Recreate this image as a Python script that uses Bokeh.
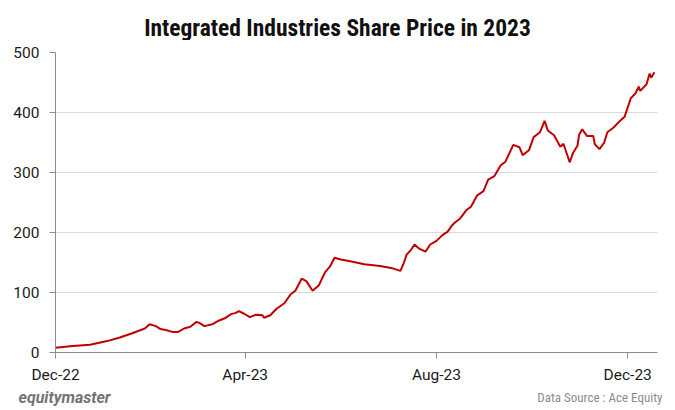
import pandas as pd
from bokeh.plotting import figure
from bokeh.layouts import column
from bokeh.models import FixedTicker, DatetimeTickFormatter, Label, Range1d
from bokeh.embed import file_html
from bokeh.resources import INLINE

dates = [
    "2022-12-01", "2022-12-12", "2022-12-23", "2023-01-03", "2023-01-11", "2023-01-19",
    "2023-01-24", "2023-01-27", "2023-01-30", "2023-02-03", "2023-02-06", "2023-02-10",
    "2023-02-14", "2023-02-17", "2023-02-21", "2023-02-25", "2023-03-01", "2023-03-03",
    "2023-03-06", "2023-03-11", "2023-03-15", "2023-03-19", "2023-03-23", "2023-03-26",
    "2023-03-28", "2023-03-31", "2023-04-04", "2023-04-08", "2023-04-12", "2023-04-13",
    "2023-04-17", "2023-04-21", "2023-04-26", "2023-04-30", "2023-05-03", "2023-05-07",
    "2023-05-10", "2023-05-14", "2023-05-18", "2023-05-22", "2023-05-25", "2023-05-28",
    "2023-06-01", "2023-06-07", "2023-06-16", "2023-06-26", "2023-07-03", "2023-07-09",
    "2023-07-11", "2023-07-13", "2023-07-16", "2023-07-18", "2023-07-21", "2023-07-25",
    "2023-07-28", "2023-08-01", "2023-08-05", "2023-08-08", "2023-08-11", "2023-08-13",
    "2023-08-16", "2023-08-20", "2023-08-23", "2023-08-27", "2023-08-31", "2023-09-03",
    "2023-09-07", "2023-09-11", "2023-09-14", "2023-09-19", "2023-09-23", "2023-09-25",
    "2023-09-29", "2023-10-02", "2023-10-06", "2023-10-09", "2023-10-11", "2023-10-15",
    "2023-10-19", "2023-10-21", "2023-10-25", "2023-10-27", "2023-10-30", "2023-10-31",
    "2023-11-02", "2023-11-05", "2023-11-09", "2023-11-10", "2023-11-13", "2023-11-16",
    "2023-11-18", "2023-11-22", "2023-11-26", "2023-11-29", "2023-12-03", "2023-12-06",
    "2023-12-08", "2023-12-09", "2023-12-13", "2023-12-15", "2023-12-16", "2023-12-18",
]
prices = [
    8, 11, 13, 19, 25, 32,
    37, 40, 47, 44, 39, 37,
    34, 34, 40, 43, 51, 49,
    44, 47, 53, 57, 64, 66,
    69, 65, 59, 63, 62, 58,
    62, 73, 82, 97, 103, 123,
    119, 103, 112, 134, 143, 158,
    155, 152, 147, 144, 141, 136,
    148, 163, 172, 180, 173, 168,
    180, 186, 196, 201, 212, 217,
    223, 237, 243, 262, 269, 288,
    294, 312, 318, 346, 342, 329,
    337, 359, 367, 386, 370, 362,
    343, 348, 317, 332, 345, 363,
    372, 361, 361, 347, 339, 350,
    367, 375, 386, 393, 424, 432,
    443, 436, 447, 465, 458, 467,
]
tick_dates = ["2022-12-01", "2023-04-01", "2023-08-01", "2023-12-01"]
y_ticks = [0, 100, 200, 300, 400, 500]
axis_start = "2022-12-01"
axis_end = "2023-12-20"

title_text = "Integrated Industries Share Price in 2023"
brand_text = "equitymaster"
source_text = "Data Source : Ace Equity"

W = 673


def blank(height):
    f = figure(width=W, height=height, output_backend="svg", toolbar_location=None,
               x_axis_location=None, y_axis_location=None,
               x_range=Range1d(0, 1), y_range=Range1d(0, 1),
               min_border_left=0, min_border_right=0,
               min_border_top=0, min_border_bottom=0)
    f.frame_align = False
    f.outline_line_color = None
    f.xgrid.grid_line_color = None
    f.ygrid.grid_line_color = None
    return f


# header with title
head = blank(40)
head.add_layout(Label(x=337, y=13, x_units="screen", y_units="screen",
                      text=title_text, text_align="center", text_baseline="middle",
                      text_font="Roboto Condensed", text_font_style="bold",
                      text_font_size="23.5px", text_color="#111111"))

# main chart
x = pd.to_datetime(dates)
x_ticks = [pd.Timestamp(d).value / 1e6 for d in tick_dates]

p = figure(width=W, height=346, x_axis_type="datetime",
           output_backend="svg", toolbar_location=None,
           x_range=Range1d(pd.Timestamp(axis_start), pd.Timestamp(axis_end)),
           y_range=Range1d(0, 500),
           min_border_left=55, min_border_right=16,
           min_border_top=12, min_border_bottom=34)
p.outline_line_color = None

p.line(x, prices, line_color="#C00000", line_width=2)

p.xaxis.ticker = FixedTicker(ticks=x_ticks)
fmt = "%b-%y"
p.xaxis.formatter = DatetimeTickFormatter(
    milliseconds=fmt, seconds=fmt, minsec=fmt, minutes=fmt, hourmin=fmt,
    hours=fmt, days=fmt, months=fmt, years=fmt)
p.yaxis.ticker = FixedTicker(ticks=y_ticks)

for ax in (p.xaxis, p.yaxis):
    ax.axis_line_color = "#8C8C8C"
    ax.axis_line_width = 1
    ax.major_tick_line_color = "#8C8C8C"
    ax.major_tick_in = 0
    ax.major_tick_out = 6
    ax.minor_tick_line_color = None
    ax.major_label_text_font = "Roboto"
    ax.major_label_text_font_size = "15.5px"
    ax.major_label_text_color = "#1a1a1a"
p.xaxis.major_label_standoff = 7
p.yaxis.major_label_standoff = 10

p.xgrid.grid_line_color = None
p.ygrid.grid_line_color = "#D9D9D9"
p.ygrid.grid_line_width = 1

# footer
foot = blank(22)
foot.add_layout(Label(x=18, y=11, x_units="screen", y_units="screen",
                      text=brand_text, text_align="left", text_baseline="middle",
                      text_font="Roboto", text_font_style="bold italic",
                      text_font_size="16px", text_color="#747474"))
foot.add_layout(Label(x=662, y=11, x_units="screen", y_units="screen",
                      text=source_text, text_align="right", text_baseline="middle",
                      text_font="Roboto Condensed", text_font_size="13px",
                      text_color="#8C8C8C"))

layout = column(head, p, foot, spacing=0)
open("out.html", "w").write(file_html(layout, INLINE))
